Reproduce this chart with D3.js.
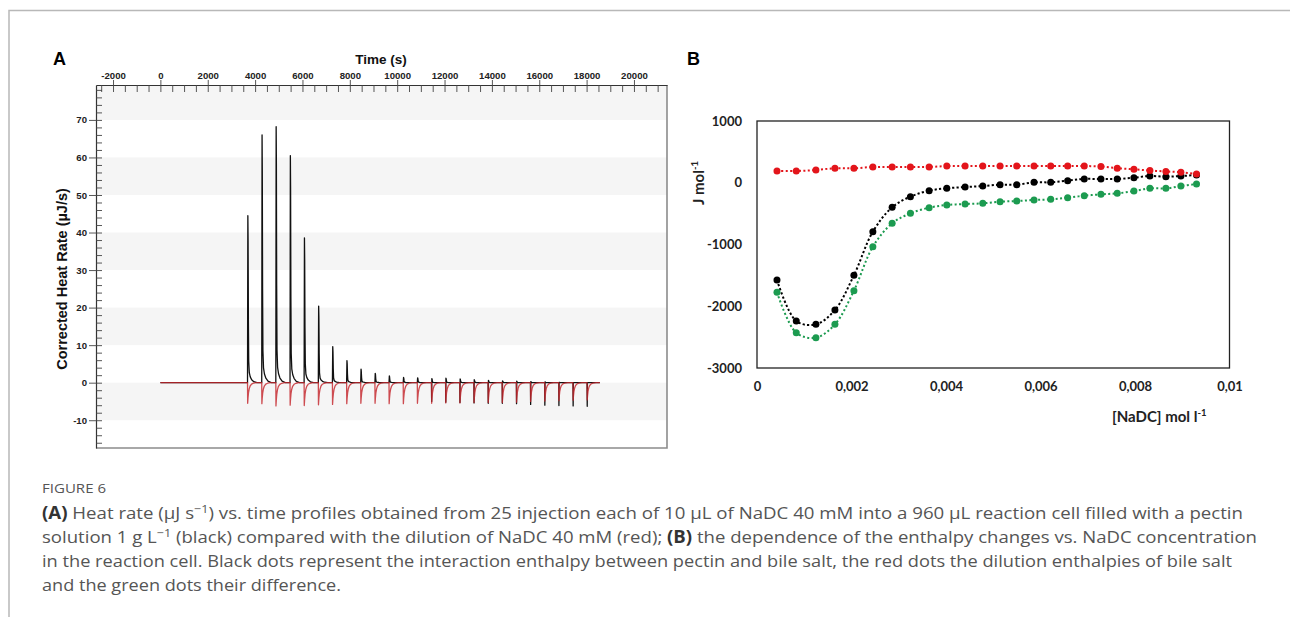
<!DOCTYPE html>
<html><head><meta charset="utf-8">
<script src="https://cdn.jsdelivr.net/npm/d3@7"></script>
<style>body{margin:0;background:#fff}svg{display:block}</style>
</head><body>
<svg id="c" width="1290" height="617"></svg>
<script>
// ---------- Panel A data (ITC thermogram) ----------
const injectionTimes = [3680, 4280, 4875, 5475, 6070, 6670, 7265, 7865, 8460, 9060, 9655, 10255, 10850, 11450, 12045, 12645, 13240, 13840, 14435, 15035, 15630, 16230, 16825, 17425, 18020];
const peakBlack = [44.5, 66.0, 68.2, 60.5, 38.6, 20.4, 9.6, 5.9, 3.6, 2.5, 1.8, 1.4, 1.3, 1.1, 1.2, 1.0, 0.8, 0.6, 0.5, 0.4, 0.3, 0.2, 0.1, 0, 0];
const dipBlack  = [0, 0, 0, 0, 0, 0, 0, 0, 0, 0, 0, 0, 0, -5.0, -5.2, -5.3, -5.4, -5.5, -5.5, -5.6, -5.8, -6.0, -6.1, -6.2, -6.3];
const dipRed    = [-5.5, -5.6, -6.2, -6.0, -6.1, -5.9, -5.8, -5.6, -5.5, -5.5, -5.6, -5.6, -5.5, -5.5, -5.4, -5.4, -5.3, -5.3, -5.3, -5.2, -5.0, -4.9, -4.8, -4.7, -4.6];
// relative shape of one injection peak (seconds after injection, fraction of extreme)
const peakShapeT = [14, 24, 36, 50, 75, 115, 175, 265, 400];
const peakShapeV = [1, 0.85, 0.38, 0.13, 0.06, 0.035, 0.018, 0.006, 0];
const dipShapeT  = [6, 20, 40, 70, 110, 170, 250, 380];
const dipShapeV  = [1, 0.75, 0.5, 0.3, 0.16, 0.07, 0.025, 0];
const traceStart = 0, traceEnd = 18560;
const timeTickLabels = [-2000, 0, 2000, 4000, 6000, 8000, 10000, 12000, 14000, 16000, 18000, 20000];
const heatTickLabels = [70, 60, 50, 40, 30, 20, 10, 0, -10];
const bandRanges = [[70, 80], [50, 60], [30, 40], [10, 20], [-10, 0]];

// ---------- Panel B data (enthalpy vs concentration) ----------
const concNaDC = [0.000423, 0.000831, 0.001247, 0.001649, 0.002051, 0.002452, 0.002860, 0.003247, 0.003643, 0.004017, 0.004404, 0.004778, 0.005144, 0.005497, 0.005863, 0.006216, 0.006575, 0.006926, 0.007279, 0.007624, 0.007977, 0.008315, 0.008654, 0.008971, 0.009302];
const enthBlack = [-1575, -2239, -2293, -2061, -1499, -792, -398, -225, -128, -90, -70, -53, -31, -31, 7, 7, 34, 61, 61, 61, 82, 109, 99, 109, 126];
const enthRed   = [190, 190, 207, 234, 234, 255, 255, 255, 255, 271, 271, 271, 271, 271, 271, 271, 271, 271, 262, 236, 218, 198, 183, 170, 142];
const enthGreen = [-1774, -2429, -2509, -2293, -1748, -1035, -657, -495, -404, -360, -345, -333, -307, -296, -279, -269, -242, -210, -188, -172, -134, -91, -91, -53, -20];
const bXTicks = [0, 0.002, 0.004, 0.006, 0.008, 0.01];
const bXLabels = ["0", "0,002", "0,004", "0,006", "0,008", "0,01"];
const bYTicks = [1000, 0, -1000, -2000, -3000];

const svg = d3.select("#c");
svg.append("rect").attr("width", 1290).attr("height", 617).attr("fill", "#fff");
svg.append("path").attr("d", "M9,617V10.5H1290").attr("fill", "none").attr("stroke", "#b8b8b8").attr("stroke-width", 1.5);

// ================= PANEL A =================
const A = {l: 96, r: 667, t: 85, b: 448};
const xA = d3.scaleLinear().domain([-2719, 21395]).range([A.l, A.r]);
const yA = d3.scaleLinear().domain([-17.4, 79.3]).range([A.b, A.t]);
const fA = "'Liberation Sans', Arial, sans-serif";
const gA = svg.append("g");

gA.selectAll("rect.band").data(bandRanges).join("rect")
  .attr("x", A.l).attr("width", A.r - A.l)
  .attr("y", d => yA(Math.min(d[1], 79.3))).attr("height", d => yA(d[0]) - yA(Math.min(d[1], 79.3)))
  .attr("fill", "#f5f5f5");

// frame right/bottom
gA.append("path").attr("d", `M${A.l},${A.b}H${A.r}V${A.t}`).attr("fill", "none").attr("stroke", "#8c8c8c").attr("stroke-width", 1.6);

// top axis
const topAx = gA.append("g").attr("transform", `translate(0,${A.t})`)
  .call(d3.axisTop(xA).tickValues(timeTickLabels).tickSize(5).tickSizeOuter(0).tickPadding(1.5).tickFormat(d => String(d)));
const minorX = d3.range(-2500, 21001, 500);
const topIn = gA.append("g").attr("transform", `translate(0,${A.t})`)
  .call(d3.axisBottom(xA).tickValues(minorX).tickSize(7).tickSizeOuter(0).tickFormat(""));
topIn.select(".domain").remove();
// left axis
const leftAx = gA.append("g").attr("transform", `translate(${A.l},0)`)
  .call(d3.axisLeft(yA).tickValues(heatTickLabels).tickSize(7).tickSizeOuter(0).tickPadding(2).tickFormat(d => String(d)));
const minorY = d3.range(-16, 79, 2);
const leftIn = gA.append("g").attr("transform", `translate(${A.l},0)`)
  .call(d3.axisRight(yA).tickValues(minorY).tickSize(6).tickSizeOuter(0).tickFormat(""));
leftIn.select(".domain").remove();
[topAx, leftAx, topIn, leftIn].forEach(g => {
  g.selectAll("line").attr("stroke", "#444").attr("stroke-width", 0.9);
  g.selectAll(".domain").attr("stroke", "#333").attr("stroke-width", 1.2);
  g.selectAll("text").attr("font-family", fA).attr("font-weight", "bold").attr("font-size", 9.6).attr("fill", "#222");
});

// traces
function blackPoints() {
  const pts = [[traceStart, 0]];
  injectionTimes.forEach((t0, i) => {
    pts.push([t0, 0]);
    if (dipBlack[i] !== 0) pts.push([t0 + 6, dipBlack[i]]);
    peakShapeT.forEach((dt, k) => pts.push([t0 + dt, peakBlack[i] * peakShapeV[k]]));
  });
  pts.push([traceEnd, 0]);
  return pts;
}
function redPoints() {
  const pts = [[traceStart, 0]];
  injectionTimes.forEach((t0, i) => {
    pts.push([t0, 0]);
    dipShapeT.forEach((dt, k) => pts.push([t0 + dt, dipRed[i] * dipShapeV[k]]));
  });
  pts.push([traceEnd, 0]);
  return pts;
}
const lineA = d3.line().x(d => xA(d[0])).y(d => yA(d[1]));
gA.append("path").attr("d", lineA(blackPoints())).attr("fill", "none").attr("stroke", "#111").attr("stroke-width", 1.3).attr("stroke-linejoin", "round");
gA.append("path").attr("d", lineA(redPoints())).attr("fill", "none").attr("stroke", "#c4262c").attr("stroke-opacity", 0.82).attr("stroke-width", 1.3).attr("stroke-linejoin", "round");

// titles
gA.append("text").attr("x", 53).attr("y", 65).text("A").attr("font-family", fA).attr("font-weight", "bold").attr("font-size", 18).attr("fill", "#000");
gA.append("text").attr("x", 381).attr("y", 64).attr("text-anchor", "middle").text("Time (s)").attr("font-family", fA).attr("font-weight", "bold").attr("font-size", 13.5).attr("fill", "#111");
gA.append("text").attr("transform", "translate(67,279) rotate(-90)").attr("text-anchor", "middle").text("Corrected Heat Rate (µJ/s)").attr("font-family", fA).attr("font-weight", "bold").attr("font-size", 14.5).attr("fill", "#111");

// ================= PANEL B =================
const B = {l: 757, r: 1229.5, t: 121, b: 368};
const xB = d3.scaleLinear().domain([0, 0.01]).range([B.l, B.r]);
const yB = d3.scaleLinear().domain([-3000, 1000]).range([B.b, B.t]);
const fB = "Lato, 'Open Sans', sans-serif";
const gB = svg.append("g");
gB.append("rect").attr("x", B.l).attr("y", B.t).attr("width", B.r - B.l).attr("height", B.b - B.t).attr("fill", "none").attr("stroke", "#222").attr("stroke-width", 1.3);

const yAxB = gB.append("g").attr("transform", `translate(${B.l},0)`)
  .call(d3.axisLeft(yB).tickValues(bYTicks).tickSize(0).tickPadding(15).tickFormat(d => String(d)));
const xAxB = gB.append("g").attr("transform", `translate(0,${B.b})`)
  .call(d3.axisBottom(xB).tickValues(bXTicks).tickSize(0).tickPadding(14).tickFormat((d, i) => bXLabels[i]));
[yAxB, xAxB].forEach(g => {
  g.select(".domain").remove();
  g.selectAll("text").attr("font-family", fB).attr("font-weight", "bold").attr("font-size", 13).attr("fill", "#222");
});

const lineB = d3.line().x(d => xB(d[0])).y(d => yB(d[1])).curve(d3.curveCatmullRom.alpha(0.5));
const seriesB = [
  {vals: enthBlack, color: "#000", dash: "2.2,2.2"},
  {vals: enthGreen, color: "#1c9b50", dash: "2,2.4"},
  {vals: enthRed, color: "#e3151b", dash: "2,2.4"}
];
seriesB.forEach(s => {
  const pts = concNaDC.map((c, i) => [c, s.vals[i]]);
  gB.append("path").attr("d", lineB(pts)).attr("fill", "none").attr("stroke", s.color).attr("stroke-width", 2).attr("stroke-dasharray", s.dash);
  gB.append("g").selectAll("circle").data(pts).join("circle")
    .attr("cx", d => xB(d[0])).attr("cy", d => yB(d[1])).attr("r", 3.5).attr("fill", s.color);
});

gB.append("text").attr("x", 687).attr("y", 65).text("B").attr("font-family", fA).attr("font-weight", "bold").attr("font-size", 18).attr("fill", "#000");
const jt = gB.append("text").attr("transform", "translate(704,183) rotate(-90)").attr("text-anchor", "middle")
  .attr("font-family", fB).attr("font-weight", "bold").attr("font-size", 15).attr("fill", "#222");
jt.append("tspan").text("J mol");
jt.append("tspan").text("-1").attr("font-size", 9.5).attr("dy", -6);
const xt = gB.append("text").attr("x", 1112).attr("y", 422)
  .attr("font-family", fB).attr("font-weight", "bold").attr("font-size", 15).attr("fill", "#222");
xt.append("tspan").text("[NaDC] mol l");
xt.append("tspan").text("-1").attr("font-size", 9.5).attr("dy", -6);

// ================= CAPTION =================
const fC = "'Open Sans', 'Noto Sans', sans-serif";
svg.append("text").attr("x", 42).attr("y", 493).text("FIGURE 6").attr("font-family", fC).attr("font-size", 13.5).attr("fill", "#555").attr("textLength", 64).attr("lengthAdjust", "spacingAndGlyphs");
const captionLines = [
  {y: 519, w: 1201, segs: [["(A)", "b"], [" Heat rate (μJ s"], ["−1", "s"], [") vs. time profiles obtained from 25 injection each of 10 μL of NaDC 40 mM into a 960 μL reaction cell filled with a pectin"]]},
  {y: 543, w: 1215, segs: [["solution 1 g L"], ["−1", "s"], [" (black) compared with the dilution of NaDC 40 mM (red); "], ["(B)", "b"], [" the dependence of the enthalpy changes vs. NaDC concentration"]]},
  {y: 567, w: 1190, segs: [["in the reaction cell. Black dots represent the interaction enthalpy between pectin and bile salt, the red dots the dilution enthalpies of bile salt"]]},
  {y: 591, w: 299, segs: [["and the green dots their difference."]]}
];
captionLines.forEach(L => {
  const t = svg.append("text").attr("x", 42).attr("y", L.y).attr("font-family", fC).attr("font-size", 17).attr("fill", "#555")
    .attr("textLength", L.w).attr("lengthAdjust", "spacingAndGlyphs");
  let raised = false;
  L.segs.forEach(s => {
    const sp = t.append("tspan").text(s[0]);
    if (s[1] === "b") sp.attr("font-weight", "bold").attr("fill", "#333");
    if (s[1] === "s") { sp.attr("font-size", 11.5).attr("dy", -6.5); raised = true; }
    else if (raised) { sp.attr("dy", 6.5); raised = false; }
  });
});
</script>
</body></html>
